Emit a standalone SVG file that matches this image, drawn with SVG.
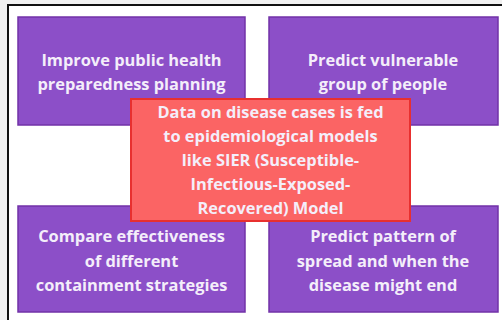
<svg xmlns="http://www.w3.org/2000/svg" width="502" height="320" viewBox="0 0 502 320">
<style>
.box{fill:#8c4fc8;stroke:#7232a8;stroke-width:1.5}
.red{fill:#fb6464;stroke:#e8302f;stroke-width:2}
text{font-family:"Open Sans","Liberation Sans",sans-serif;font-weight:bold;font-size:16.4px;fill:#f4eefa;text-anchor:middle}
</style>
<rect x="0" y="0" width="502" height="320" fill="#f1f1f1"/>
<rect x="8" y="5" width="500" height="320" fill="#ffffff" stroke="#111111" stroke-width="2"/>
<g id="n1">
<rect class="box" x="18" y="17" width="227" height="108"/>
<text x="131.5" y="66">Improve public health</text>
<text x="131.5" y="90">preparedness planning</text>
</g>
<g id="n2">
<rect class="box" x="269" y="17" width="229" height="108"/>
<text x="383" y="66">Predict vulnerable</text>
<text x="383" y="90">group of people</text>
</g>
<g id="n3">
<rect class="box" x="18" y="206" width="227" height="106"/>
<text x="131.5" y="242">Compare effectiveness</text>
<text x="131.5" y="267">of different</text>
<text x="131.5" y="291">containment strategies</text>
</g>
<g id="n4">
<rect class="box" x="269" y="206" width="229" height="106"/>
<text x="383" y="242">Predict pattern of</text>
<text x="383" y="267">spread and when the</text>
<text x="383" y="291">disease might end</text>
</g>
<g id="center">
<rect class="red" x="131" y="99" width="279" height="122"/>
<text x="270.5" y="118">Data on disease cases is fed</text>
<text x="270.5" y="142">to epidemiological models</text>
<text x="270.5" y="166">like SIER (Susceptible-</text>
<text x="270.5" y="190">Infectious-Exposed-</text>
<text x="270.5" y="214">Recovered) Model</text>
</g>
<g id="connectors"/>
</svg>
